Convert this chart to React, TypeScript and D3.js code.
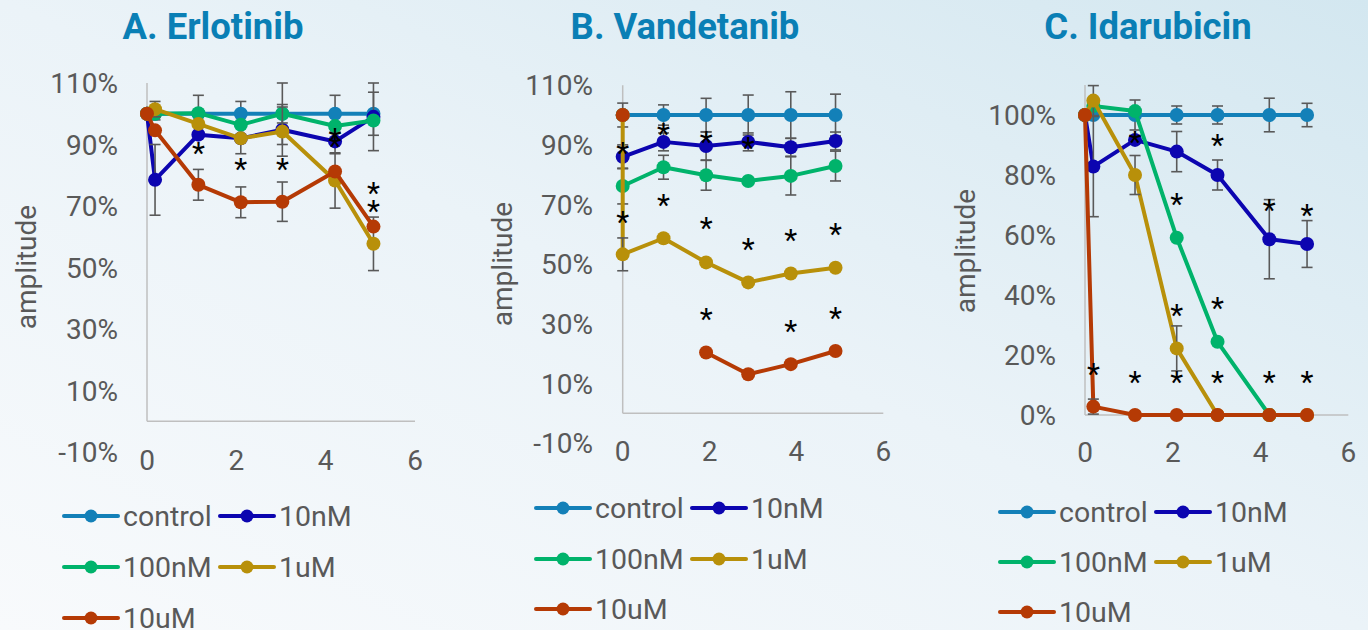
import * as d3 from "d3";
import React from "react";

const seriesNames = ["control", "10nM", "100nM", "1uM", "10uM"];
const seriesColors = ["#1380b8", "#0c05b0", "#00b36b", "#b8900a", "#b53a05"];

// A. Erlotinib
const erlX = [0, 0.18, 1.15, 2.1, 3.03, 4.21, 5.07];
const erlControl = [100, 100, 100, 100, 100, 100, 100];
const erl10nM = [100, 78.5, 93.2, 92, 94.8, 91, 99];
const erl100nM = [100, 100, 100.2, 96.4, 100, 96, 97.8];
const erl1uM = [100, 101.5, 96.7, 92, 94.2, 78.3, 57.7];
const erl10uM = [100, 94.6, 76.9, 71.2, 71.4, 81.2, 63.3];
const erlControlErr = [null, 2, 6, 4, 10, 6, 7];
const erl10nMErr = [null, 11.5, null, 5, null, 4, 11];
const erl100nMErr = [null, null, null, null, 3, null, null];
const erl1uMErr = [null, 2.5, null, null, 8, 9, 8.7];
const erl10uMErr = [null, null, 5, 5, 6.4, null, null];
const erlStars = [[1.15, 89], [2.1, 83.7], [3.03, 83.7], [4.21, 93.5], [4.21, 91], [5.07, 75.8], [5.07, 70.1]];

// B. Vandetanib
const vanX = [0, 0, 0.94, 1.92, 2.89, 3.87, 4.9];
const vanControl = [100, 100, 100, 100, 100, 100, 100];
const van10nM = [null, 86, 91, 89.6, 91, 89.2, 91.3];
const van100nM = [null, 76.2, 82.5, 79.8, 77.9, 79.6, 82.9];
const van1uM = [100, 53.3, 58.7, 50.6, 43.9, 46.9, 48.8];
const van10uM = [100, null, null, 20.4, 13.1, 16.5, 20.9];
const vanControlErr = [4, null, 3.4, 5.6, 6.7, 7.8, 7];
const van10nMErr = [null, 4, 3, 4.7, 3, 3, 3];
const van100nMErr = [null, 6, 4, 5, null, 6.4, 5];
const van1uMErr = [null, 5.5, null, null, null, null, null];
const van10uMErr = [null, null, null, null, null, null, null];
const vanStars = [[0, 88.8], [0, 65.9], [0.94, 95.2], [0.94, 71.5], [1.92, 92.5], [1.92, 63.7], [1.92, 33.3], [2.89, 90.7], [2.89, 56.8], [3.87, 59.8], [3.87, 29.3], [4.9, 61.7], [4.9, 33.5]];

// C. Idarubicin
const idaX = [0, 0.19, 1.14, 2.09, 3.02, 4.2, 5.06];
const idaControl = [100, 100, 100, 100, 100, 100, 100];
const ida10nM = [100, 82.8, 91.7, 87.8, 80, 58.6, 57];
const ida100nM = [100, 103, 101.3, 59.1, 24.4, 0, null];
const ida1uM = [100, 104.8, 80, 22.2, 0, 0, 0];
const ida10uM = [100, 2.8, 0, 0, 0, 0, 0];
const idaControlErr = [null, null, 5, 3, 3, 5.6, 3.9];
const ida10nMErr = [null, 16.7, null, 6.7, 5, 13.2, 7.8];
const ida100nMErr = [null, null, null, null, null, null, null];
const ida1uMErr = [null, 5, 6.5, 7.5, null, null, null];
const ida10uMErr = [null, 2.5, null, null, null, null, null];
const idaStars = [[0.19, 15.2], [1.14, 92.8], [1.14, 12.6], [2.09, 71.9], [2.09, 35], [2.09, 12.6], [3.02, 91.7], [3.02, 37.2], [3.02, 12.6], [4.2, 70], [4.2, 12.6], [5.06, 68.3], [5.06, 12.6]];

const xTicks = [0, 2, 4, 6];
const yTicksWide = [-10, 10, 30, 50, 70, 90, 110];
const yTicksIda = [0, 20, 40, 60, 80, 100];

const panels = [
  {
    title: "A. Erlotinib", xs: erlX,
    values: [erlControl, erl10nM, erl100nM, erl1uM, erl10uM],
    errs: [erlControlErr, erl10nMErr, erl100nMErr, erl1uMErr, erl10uMErr],
    stars: erlStars, yDomain: [-10, 110], yTicks: yTicksWide,
    xRange: [147, 415], yRange: [452, 83], tickEnd: 118, xLabelY: 460,
    axisLabel: [26, 267], titleX: 213, legendX: 64, legendRows: [516, 567, 618],
  },
  {
    title: "B. Vandetanib", xs: vanX,
    values: [vanControl, van10nM, van100nM, van1uM, van10uM],
    errs: [vanControlErr, van10nMErr, van100nMErr, van1uMErr, van10uMErr],
    stars: vanStars, yDomain: [-10, 110], yTicks: yTicksWide,
    xRange: [622.7, 883.3], yRange: [443.2, 85.2], tickEnd: 593, xLabelY: 451,
    axisLabel: [502, 264], titleX: 685, legendX: 536, legendRows: [508, 559, 609],
  },
  {
    title: "C. Idarubicin", xs: idaX,
    values: [idaControl, ida10nM, ida100nM, ida1uM, ida10uM],
    errs: [idaControlErr, ida10nMErr, ida100nMErr, ida1uMErr, ida10uMErr],
    stars: idaStars, yDomain: [0, 110], yTicks: yTicksIda,
    xRange: [1085, 1348.3], yRange: [415, 85], tickEnd: 1056, xLabelY: 452,
    axisLabel: [965, 251], titleX: 1148, legendX: 1000, legendRows: [512, 562, 612],
  },
];

const FONT = "Roboto, sans-serif";
const GREY = "#595959";

const Panel = ({ p }: { p: any }) => {
  const x = d3.scaleLinear().domain([0, 6]).range(p.xRange);
  const y = d3.scaleLinear().domain(p.yDomain).range(p.yRange);
  const line = d3
    .line<[number, number | null]>()
    .defined((d) => d[1] != null)
    .x((d) => x(d[0]))
    .y((d) => y(d[1] as number));

  // legend slots: 2 columns
  const legendPos = seriesNames.map((_, i) => ({
    lx: p.legendX + (i % 2) * 156,
    ly: p.legendRows[Math.floor(i / 2)],
  }));

  return (
    <g>
      <text x={p.titleX} y={39} textAnchor="middle" fontFamily={FONT} fontWeight={700} fontSize={36.5} fill="#0a7fb5">
        {p.title}
      </text>
      {/* axes */}
      <line x1={x(0)} x2={x(0)} y1={y(p.yDomain[1])} y2={y(0)} stroke="#bfbfbf" strokeWidth={1.5} />
      <line x1={x(0)} x2={x(6)} y1={y(0)} y2={y(0)} stroke="#bfbfbf" strokeWidth={1.5} />
      {p.yTicks.map((t: number) => (
        <text key={t} x={p.tickEnd} y={y(t)} dy="0.36em" textAnchor="end" fontFamily={FONT} fontSize={28} fill={GREY}>
          {`${t}%`}
        </text>
      ))}
      {xTicks.map((t) => (
        <text key={t} x={x(t)} y={p.xLabelY} dy="0.36em" textAnchor="middle" fontFamily={FONT} fontSize={28} fill={GREY}>
          {t}
        </text>
      ))}
      <text
        transform={`translate(${p.axisLabel[0]},${p.axisLabel[1]}) rotate(-90)`}
        dy="0.36em" textAnchor="middle" fontFamily={FONT} fontSize={28} fill={GREY}
      >
        amplitude
      </text>
      {/* series */}
      {p.values.map((vals: (number | null)[], si: number) => {
        const pts = p.xs.map((xv: number, i: number) => [xv, vals[i]] as [number, number | null]);
        const errs = p.errs[si];
        return (
          <g key={si}>
            <path d={line(pts) || ""} fill="none" stroke={seriesColors[si]} strokeWidth={4} strokeLinejoin="round" />
            {pts.map((d: [number, number | null], i: number) =>
              d[1] != null && errs[i] != null ? (
                <g key={"e" + i} stroke={GREY} strokeWidth={1.6}>
                  <line x1={x(d[0])} x2={x(d[0])} y1={y(d[1] + errs[i])} y2={y(d[1] - errs[i])} />
                  <line x1={x(d[0]) - 5.5} x2={x(d[0]) + 5.5} y1={y(d[1] + errs[i])} y2={y(d[1] + errs[i])} />
                  <line x1={x(d[0]) - 5.5} x2={x(d[0]) + 5.5} y1={y(d[1] - errs[i])} y2={y(d[1] - errs[i])} />
                </g>
              ) : null
            )}
            {pts.map((d: [number, number | null], i: number) =>
              d[1] != null ? <circle key={"m" + i} cx={x(d[0])} cy={y(d[1])} r={7} fill={seriesColors[si]} /> : null
            )}
          </g>
        );
      })}
      {p.stars.map((s: number[], i: number) => (
        <text key={"s" + i} x={x(s[0])} y={y(s[1]) + 15} textAnchor="middle" fontFamily={FONT} fontSize={30} fill="#000">
          *
        </text>
      ))}
      {/* legend */}
      {seriesNames.map((name, i) => {
        const { lx, ly } = legendPos[i];
        return (
          <g key={name}>
            <line x1={lx} x2={lx + 54} y1={ly} y2={ly} stroke={seriesColors[i]} strokeWidth={4} strokeLinecap="round" />
            <circle cx={lx + 27} cy={ly} r={6.5} fill={seriesColors[i]} />
            <text x={lx + 59} y={ly} dy="0.36em" fontFamily={FONT} fontSize={28.5} fill={GREY}>
              {name}
            </text>
          </g>
        );
      })}
    </g>
  );
};

const App = () => {
  return (
    <svg width={1368} height={630} style={{ position: "absolute", left: 0, top: 0 }}>
      <defs>
        <linearGradient id="bg" x1="0" y1="1" x2="1" y2="0">
          <stop offset="0" stopColor="#f8fafc" />
          <stop offset="0.5" stopColor="#ebf3f8" />
          <stop offset="1" stopColor="#d3e7f0" />
        </linearGradient>
      </defs>
      <rect width={1368} height={630} fill="url(#bg)" />
      {panels.map((p) => (
        <Panel key={p.title} p={p} />
      ))}
    </svg>
  );
};

export default App;
